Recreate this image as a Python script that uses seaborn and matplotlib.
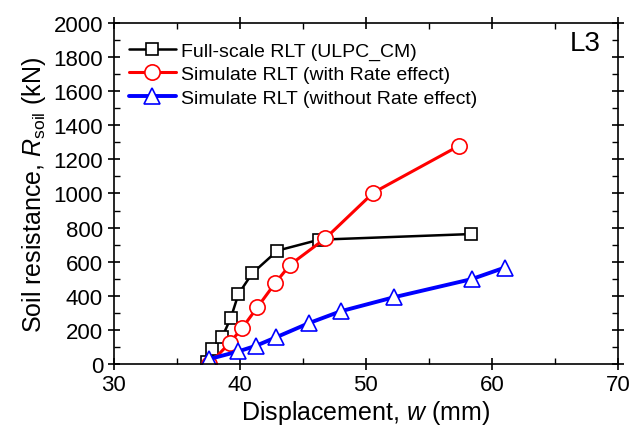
import pandas as pd
import matplotlib.pyplot as plt
import seaborn as sns

# Full-scale RLT (ULPC_CM)
full_w = [37.4, 37.8, 38.6, 39.3, 39.9, 41.0, 43.0, 46.3, 58.3]
full_r = [10, 88, 156, 270, 410, 532, 665, 729, 762]

# Simulate RLT (with rate effect)
rate_w = [37.6, 39.2, 40.2, 41.4, 42.8, 44.0, 46.8, 50.6, 57.4]
rate_r = [0, 123, 211, 332, 473, 582, 737, 1005, 1280]

# Simulate RLT (without rate effect)
norate_w = [37.6, 39.9, 41.3, 42.9, 45.5, 48.0, 52.2, 58.4, 61.0]
norate_r = [29, 74, 107, 157, 240, 309, 391, 498, 565]

sns.set_style("ticks")
plt.rcParams["font.family"] = ["Liberation Sans", "DejaVu Sans"]
plt.rcParams["mathtext.fontset"] = "custom"
plt.rcParams["mathtext.rm"] = "Liberation Sans"
plt.rcParams["mathtext.it"] = "Liberation Sans:italic"
for key in ["text.color", "axes.labelcolor", "xtick.color", "ytick.color", "axes.edgecolor"]:
    plt.rcParams[key] = "black"

fig = plt.figure(figsize=(6.32, 4.27), dpi=100)
ax = fig.add_axes([0.1796, 0.1452, 0.7984, 0.7986])

series = [
    (full_w, full_r, "Full-scale RLT (ULPC_CM)", "black", "s", 1.8, 9),
    (rate_w, rate_r, "Simulate RLT (with Rate effect)", "red", "o", 2.2, 11),
    (norate_w, norate_r, "Simulate RLT (without Rate effect)", "blue", "^", 2.8, 11),
]
for w, r, label, color, marker, lw, ms in series:
    df = pd.DataFrame({"w": w, "r": r})
    sns.lineplot(
        data=df, x="w", y="r", ax=ax, sort=False, color=color, lw=lw,
        marker=marker, markersize=ms, markerfacecolor="white",
        markeredgecolor=color, markeredgewidth=1.2, label=label,
    )

ax.set_xlim(30, 70)
ax.set_ylim(0, 2000)
ax.set_xticks(range(30, 71, 10))
ax.set_xticks(range(35, 70, 10), minor=True)
ax.set_yticks(range(0, 2001, 200))
ax.set_yticks(range(100, 2000, 200), minor=True)
ax.tick_params(which="major", direction="inout", length=8, width=1.2,
               labelsize=16, top=True, right=True)
ax.tick_params(which="minor", direction="in", length=4, width=1,
               top=True, right=True)
for s in ax.spines.values():
    s.set_linewidth(1.2)

ax.set_xlabel(r"Displacement, $\mathit{w}$ (mm)", fontsize=18, labelpad=2)
ax.set_ylabel(r"Soil resistance, $\mathit{R}_{\mathrm{soil}}$ (kN)", fontsize=18, labelpad=4)

ax.text(0.965, 0.94, "L3", transform=ax.transAxes, ha="right", va="center", fontsize=20)

ax.legend(loc="upper left", frameon=False, fontsize=14, handlelength=2.4,
          handletextpad=0.25, labelspacing=0.3, borderaxespad=0.4,
          bbox_to_anchor=(0.0, 0.99))

fig.savefig("out.png", dpi=100)
